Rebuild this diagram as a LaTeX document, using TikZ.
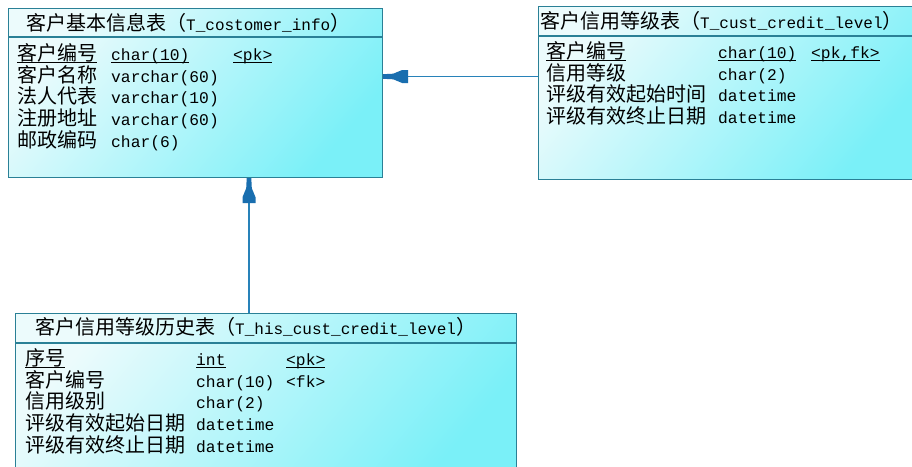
\documentclass[tikz,border=0pt]{standalone}
\usepackage{fontspec}
\setmonofont{Liberation Mono}
\newfontfamily\cjk{Noto Sans CJK SC}
\usetikzlibrary{calc}
\definecolor{bordercol}{RGB}{42,128,150}
\definecolor{linecol}{RGB}{40,130,185}
\definecolor{headcol}{RGB}{25,110,175}
\definecolor{lightc}{RGB}{236,251,252}
\definecolor{cyanc}{RGB}{122,240,248}
\newcommand\myul[1]{\setbox0\hbox{#1}\rlap{\rule[-2.6pt]{\wd0}{0.9pt}}\box0}
\tikzset{
  tbl/.style={draw=bordercol, line width=1.2pt, rectangle, inner sep=0pt, anchor=north west,
    top color=lightc, bottom color=cyanc, shading angle=50},
  sep/.style={draw=bordercol, line width=1.2pt},
  zh/.style={anchor=base west, inner sep=0pt, font=\cjk\fontsize{20}{20}\selectfont},
  tt/.style={anchor=base west, inner sep=0pt, font=\ttfamily\fontsize{16.3}{16}\selectfont},
  hdr/.style={anchor=base west, inner sep=0pt, font=\cjk\fontsize{20}{20}\selectfont},
  conn/.style={draw=linecol, line width=1.1pt},
  ahead/.style={fill=headcol},
}
\newcommand\mt[1]{{\ttfamily\fontsize{16}{16}\selectfont #1}}
\begin{document}
\begin{tikzpicture}[x=1pt,y=-1pt]
\useasboundingbox (0,0) rectangle (912,466);
\clip (0,0) rectangle (912,466);
\fill[white] (0,0) rectangle (912,466);
% tables
\node[tbl, minimum width=374pt, minimum height=169pt] (b1) at (8,8) {};
\node[tbl, minimum width=377pt, minimum height=173pt] (b2) at (538,6) {};
\node[tbl, minimum width=501pt, minimum height=170pt] (b3) at (15,313) {};
\draw[sep] ($(b1.north west)+(0,29)$) -- ($(b1.north east)+(0,29)$);
\draw[sep] ($(b2.north west)+(0,30)$) -- ($(b2.north east)+(0,30)$);
\draw[sep] ($(b3.north west)+(0,30)$) -- ($(b3.north east)+(0,30)$);
% headers
\node[hdr] (h1) at (26,30) {客户基本信息表（\mt{T\_costomer\_info}）};
\node[hdr] (h2) at (540,28) {客户信用等级表（\mt{T\_cust\_credit\_level}）};
\node[hdr] (h3) at (35,334) {客户信用等级历史表（\mt{T\_his\_cust\_credit\_level}）};
% table 1 rows
\node[zh] (n11) at (17,60) {\myul{客户编号}};
\node[tt] (t11) at (111,60) {\myul{char(10)}};
\node[tt] (k11) at (233,60) {\myul{<pk>}};
\node[zh] (n12) at (17,82) {客户名称};
\node[tt] (t12) at (111,82) {varchar(60)};
\node[zh] (n13) at (17,103) {法人代表};
\node[tt] (t13) at (111,103) {varchar(10)};
\node[zh] (n14) at (17,125) {注册地址};
\node[tt] (t14) at (111,125) {varchar(60)};
\node[zh] (n15) at (17,147) {邮政编码};
\node[tt] (t15) at (111,147) {char(6)};
% table 2 rows
\node[zh] (n21) at (546,58) {\myul{客户编号}};
\node[tt] (t21) at (718,58) {\myul{char(10)}};
\node[tt] (k21) at (811,58) {\myul{<pk,fk>}};
\node[zh] (n22) at (546,80) {信用等级};
\node[tt] (t22) at (718,80) {char(2)};
\node[zh] (n23) at (546,101) {评级有效起始时间};
\node[tt] (t23) at (718,101) {datetime};
\node[zh] (n24) at (546,123) {评级有效终止日期};
\node[tt] (t24) at (718,123) {datetime};
% table 3 rows
\node[zh] (n31) at (25,365) {\myul{序号}};
\node[tt] (t31) at (196,365) {\myul{int}};
\node[tt] (k31) at (286,365) {\myul{<pk>}};
\node[zh] (n32) at (25,387) {客户编号};
\node[tt] (t32) at (196,387) {char(10)};
\node[tt] (k32) at (286,387) {<fk>};
\node[zh] (n33) at (25,408) {信用级别};
\node[tt] (t33) at (196,408) {char(2)};
\node[zh] (n34) at (25,430) {评级有效起始日期};
\node[tt] (t34) at (196,430) {datetime};
\node[zh] (n35) at (25,452) {评级有效终止日期};
\node[tt] (t35) at (196,452) {datetime};
% connectors
\coordinate (hy) at (0,76.5);
\coordinate (vx) at (249,0);
\draw[conn] (b2.west |- hy) -- (b1.east |- hy);
\fill[ahead, shift={(b1.east |- hy)}] (0,-2.3) -- (10,-2.8) -- (19,-6.5) -- (25,-6.5) -- (25,6.5) -- (19,6.5) -- (10,2.8) -- (0,2.3) -- cycle;
\draw[conn] (b3.north -| vx) -- (b1.south -| vx);
\fill[ahead, shift={(b1.south -| vx)}] (-2.3,0) -- (-2.8,10) -- (-6.5,19) -- (-6.5,25) -- (6.5,25) -- (6.5,19) -- (2.8,10) -- (2.3,0) -- cycle;
\end{tikzpicture}
\end{document}
